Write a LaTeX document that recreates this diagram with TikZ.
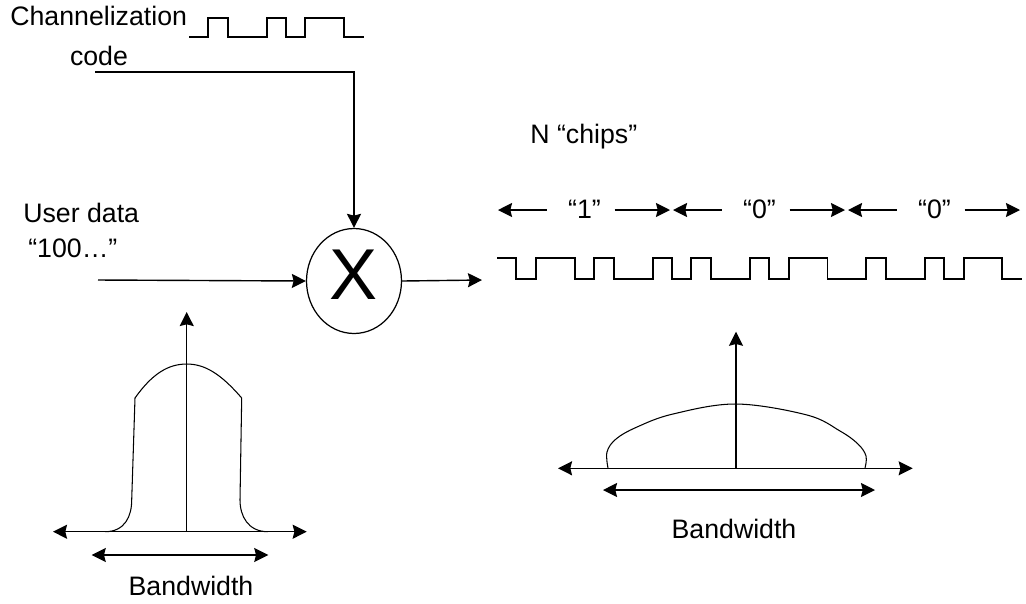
\documentclass[tikz,border=0pt]{standalone}
\usepackage{fontspec}
\setmainfont{Liberation Sans}
\usetikzlibrary{shapes.geometric,arrows.meta}

\begin{document}
\begin{tikzpicture}[
  x=0.02cm, y=-0.02cm,
  txt/.style={font=\fontsize{15.2}{18}\selectfont, inner sep=0pt},
  mul/.style={ellipse, draw, line width=0.7pt, minimum width=1.9cm, minimum height=2.1cm,
    inner sep=0pt, font=\fontsize{41}{41}\selectfont, text depth=0.24cm},
  conn/.style={line width=0.8pt, -{Stealth[length=8pt,width=8pt,inset=1pt]}},
  dbl/.style={line width=0.8pt, {Stealth[length=8pt,width=8pt,inset=1pt]}-{Stealth[length=8pt,width=8pt,inset=1pt]}},
  wave/.style={line width=1.1pt},
  curve/.style={line width=0.6pt},
]
  \useasboundingbox (0,0) rectangle (1026,603);

  % spreading code and multiplier
  \node[txt, anchor=base west] (chan) at (10,25) {Channelization};
  \node[txt, anchor=base] (code) at (99,65) {code};
  \draw[wave] (189,37) \foreach \b [count=\i from 0] in {0,1,0,0,1,0,1,1,0}
    { -- ({189+19.4*\i},{37-19*\b}) -- ({189+19.4*(\i+1)},{37-19*\b}) };
  \node[mul] (X) at (354,281) {X};
  \coordinate (codein) at (95,72);
  \coordinate (datain) at (98,280);
  \coordinate (dataout) at (482,280);
  \draw[conn] (codein) -| (X.north);
  \draw[conn] (datain) -- (X.west);
  \draw[conn] (X.east) -- (dataout);
  \node[txt, anchor=base west] (user) at (23,222) {User data};
  \node[txt, anchor=base west] (seq) at (28,257) {“100…"};

  % chips
  \node[txt, anchor=base west] (nchips) at (530,143) {N “chips”};
  \foreach \v [count=\i from 0] in {1,0,0} {
    \node[txt, anchor=base] (bit\i) at ({584.5+175*\i},218) {“\v”};
    \draw[conn] ({546.5+175*\i},210) -- ({498+175*\i},210);
    \draw[conn] ({614.5+175*\i},210) -- ({670+175*\i},210);
  }
  \draw[wave] (497,258) \foreach \b [count=\i from 0] in
    {1,0,1,1,0,1,0,0,1,0,1,0,0,1,0,1,1,0,0,1,0,0,1,0,1,1,0}
    { -- ({497+19.44*\i},{279-21*\b}) -- ({497+19.44*(\i+1)},{279-21*\b}) };

  % narrow spectrum
  \draw[conn] (186.7,531.7) -- (186.7,312);
  \draw[dbl] (53,531.7) -- (306.7,531.7);
  \draw[dbl] (91.7,555) -- (268.3,555);
  \draw[curve] (105,531.7) .. controls (125,531.7) and (131.7,516) .. (131.7,500) -- (135,398)
    .. controls (152,374) and (168,364) .. (186.7,364)
    .. controls (205,364) and (221,374) .. (241.7,398) -- (240,500)
    .. controls (240,516) and (248,531.7) .. (268,531.7);
  \node[txt, anchor=base] (bwl) at (191,595) {Bandwidth};

  % spread spectrum
  \draw[conn] (736,468.3) -- (736,331.7);
  \draw[dbl] (558,468.3) -- (912.7,468.3);
  \draw[dbl] (603,490) -- (875,490);
  \draw[curve] plot[smooth, tension=0.6] coordinates {(608,468) (607,452) (616,439) (637,427)
    (673,414) (736,404) (807,415) (840,431) (858,444) (866,456) (865,468)};
  \node[txt, anchor=base] (bwr) at (734,538) {Bandwidth};
\end{tikzpicture}
\end{document}
